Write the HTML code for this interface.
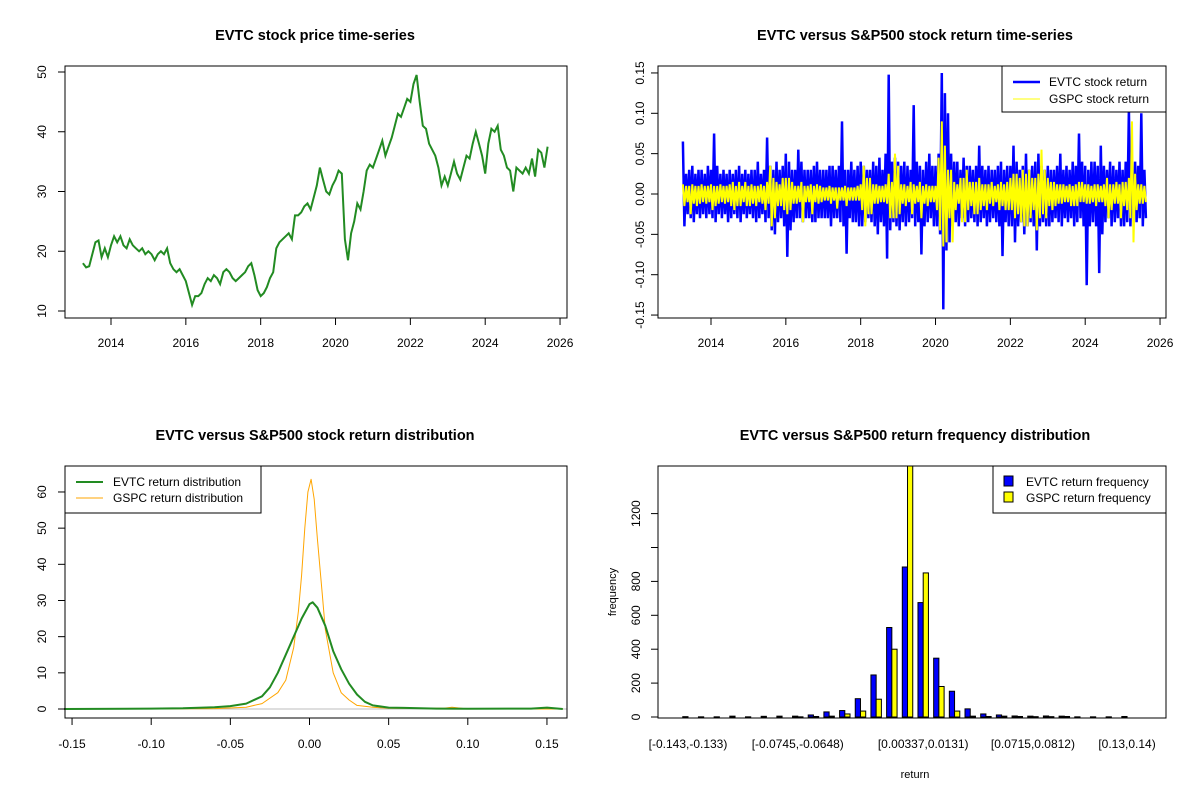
<!DOCTYPE html>
<html><head><meta charset="utf-8"><style>
body{margin:0;background:#fff;width:1200px;height:800px;overflow:hidden}
svg text{font-family:"Liberation Sans",Arial,sans-serif;fill:#000}
</style></head><body>
<svg id="chart" width="1200" height="800" viewBox="0 0 1200 800"></svg>
<script>
// ---- Panel 1: price (monthly from 2013.25)
const priceStart = 2013.25;
const priceValues = [18,17.3,17.5,19.5,21.5,21.8,19,20.5,19,
21,22.5,21.5,22.5,21,20.5,22,21,20.5,20,20.5,19.5,
20,19.5,18.5,19.5,20,19.5,20.5,18,17,16.5,17,16,
15,13,11,12.5,12.5,13,14.5,15.5,15,16,15.5,14.5,
16.5,17,16.5,15.5,15,15.5,16,16.5,17.5,18,16,13.5,
12.5,13,14,15.5,16.5,20.5,21.5,22,22.5,23,22,26,
26,26.5,27.5,28,27,29,31,34,32,30,29.5,31,
32,33.5,33,22,18.5,23,25,28,27,30,33.5,34.5,
34,35.5,37,38.5,36,37.5,39,41,43,42.5,44,45.5,
45,48,49.5,45,41,40.5,38,37,36,34,31,32.5,
31,33,35,33,32,34,36,35.5,38,40,38,36,
33,38,40.5,40,41,37,36,34,33.5,30,34,33.5,
33,34,33,35.5,32.5,37,36.5,34,37.5];
const yearTicks = [2014,2016,2018,2020,2022,2024,2026];
const priceTicks = [10,20,30,40,50];
// ---- Panel 2: returns, monthly max/min
const evtcHigh = [.065,.025,.03,.035,.025,.03,.03,.025,.035,
.03,.075,.035,.025,.03,.025,.03,.025,.03,.035,.025,.03,
.025,.03,.03,.04,.025,.03,.07,.035,.03,.04,.03,.035,
.05,.04,.03,.03,.055,.04,.03,.03,.03,.035,.04,.03,
.03,.03,.035,.035,.03,.035,.09,.03,.03,.04,.03,.035,
.04,.035,.03,.03,.04,.035,.045,.03,.05,.148,.04,.045,
.04,.035,.04,.035,.03,.11,.04,.035,.03,.04,.05,.035,
.035,.05,.15,.125,.1,.05,.04,.04,.03,.045,.035,.035,
.03,.035,.06,.035,.03,.035,.03,.03,.035,.04,.03,.035,
.035,.06,.04,.03,.035,.05,.03,.035,.04,.05,.035,.03,
.035,.03,.03,.035,.05,.03,.035,.03,.04,.035,.075,.04,
.035,.03,.04,.04,.035,.06,.035,.03,.04,.035,.03,.04,
.03,.04,.105,.03,.04,.035,.1,.03];
const evtcLow = [-.04,-.025,-.03,-.035,-.025,-.03,-.025,-.03,-.025,
-.03,-.035,-.025,-.03,-.025,-.035,-.03,-.025,-.03,-.035,-.025,-.03,
-.025,-.03,-.035,-.03,-.025,-.035,-.03,-.045,-.05,-.035,-.03,-.04,
-.078,-.045,-.035,-.03,-.03,-.035,-.03,-.03,-.035,-.035,-.03,-.03,
-.03,-.03,-.04,-.03,-.03,-.035,-.04,-.074,-.03,-.035,-.035,-.04,
-.04,-.035,-.03,-.035,-.04,-.05,-.035,-.04,-.08,-.045,-.035,-.04,
-.045,-.035,-.04,-.035,-.03,-.04,-.035,-.075,-.04,-.035,-.03,-.04,
-.04,-.05,-.143,-.07,-.06,-.04,-.035,-.04,-.03,-.04,-.035,-.03,
-.035,-.04,-.035,-.03,-.04,-.035,-.03,-.035,-.04,-.077,-.035,-.04,
-.04,-.06,-.04,-.035,-.05,-.04,-.035,-.04,-.07,-.04,-.035,-.04,
-.04,-.035,-.03,-.035,-.04,-.03,-.035,-.03,-.04,-.035,-.03,-.04,
-.113,-.04,-.035,-.04,-.098,-.05,-.035,-.03,-.04,-.035,-.03,-.04,
-.04,-.035,-.04,-.03,-.035,-.03,-.04,-.03];
const gspcHigh = [.012,.01,.01,.012,.01,.01,.012,.01,.01,
.012,.01,.01,.012,.01,.01,.012,.015,.01,.015,.01,.015,
.01,.012,.01,.01,.012,.01,.015,.035,.02,.015,.012,.02,
.02,.02,.015,.01,.01,.015,.01,.01,.012,.01,.012,.01,
.008,.008,.01,.008,.008,.008,.008,.01,.008,.008,.008,.01,
.012,.035,.02,.02,.012,.012,.01,.01,.012,.025,.015,.05,
.035,.012,.012,.01,.015,.012,.01,.015,.01,.012,.01,.01,
.01,.045,.09,.06,.03,.03,.015,.012,.02,.02,.03,.015,
.015,.015,.02,.012,.012,.012,.015,.01,.012,.015,.012,.015,
.02,.025,.025,.02,.03,.025,.03,.02,.02,.025,.055,.03,
.02,.015,.015,.012,.012,.012,.01,.012,.01,.012,.015,.015,
.012,.012,.01,.012,.012,.01,.012,.02,.012,.012,.015,.012,
.015,.015,.02,.09,.025,.012,.012,.01];
const gspcLow = [-.015,-.01,-.025,-.012,-.015,-.012,-.01,-.012,-.01,
-.02,-.015,-.012,-.01,-.012,-.01,-.015,-.02,-.015,-.015,-.01,-.015,
-.015,-.012,-.015,-.01,-.012,-.02,-.012,-.04,-.03,-.015,-.015,-.02,
-.025,-.02,-.012,-.012,-.01,-.035,-.01,-.01,-.025,-.01,-.012,-.01,
-.008,-.008,-.012,-.008,-.018,-.008,-.008,-.015,-.008,-.008,-.008,-.008,
-.02,-.04,-.025,-.025,-.012,-.012,-.01,-.01,-.012,-.03,-.03,-.03,
-.025,-.012,-.015,-.01,-.025,-.012,-.01,-.03,-.012,-.015,-.01,-.01,
-.02,-.045,-.065,-.06,-.03,-.06,-.02,-.012,-.035,-.035,-.02,-.015,
-.025,-.025,-.02,-.015,-.02,-.012,-.015,-.01,-.02,-.015,-.02,-.02,
-.02,-.03,-.025,-.035,-.04,-.04,-.03,-.02,-.045,-.03,-.025,-.03,
-.015,-.02,-.015,-.012,-.012,-.01,-.01,-.015,-.015,-.015,-.01,-.01,
-.012,-.012,-.01,-.015,-.01,-.01,-.015,-.03,-.02,-.012,-.012,-.03,
-.015,-.02,-.03,-.06,-.02,-.012,-.012,-.01];
const returnTicks = [-0.15,-0.10,-0.05,0.00,0.05,0.10,0.15];
// ---- Panel 3: densities
const evtcDx = [-0.155,-0.1,-0.08,-0.06,-0.05,-0.04,-0.03,-0.025,-0.02,-0.015,-0.01,-0.005,0,0.002,0.005,0.01,0.015,0.02,0.025,0.03,0.035,0.04,0.05,0.06,0.08,0.1,0.14,0.15,0.16];
const evtcDy = [0,0.1,0.2,0.5,0.8,1.5,3.5,6,10,15,20,25,29,29.5,28,23,16,11,7,4,2,1,0.4,0.3,0.1,0.05,0.1,0.4,0];
const gspcDx = [-0.155,-0.06,-0.04,-0.03,-0.02,-0.015,-0.01,-0.007,-0.005,-0.003,-0.001,0.001,0.003,0.005,0.008,0.01,0.015,0.02,0.025,0.03,0.04,0.05,0.085,0.09,0.1,0.16];
const gspcDy = [0,0.1,0.5,1.5,4.5,8,17,27,37,50,60,63.5,58,47,32,22,10,4.5,2.5,1,0.5,0.2,0.2,0.5,0,0];
const densXTicks = [-0.15,-0.10,-0.05,0.00,0.05,0.10,0.15];
const densYTicks = [0,10,20,30,40,50,60];
// ---- Panel 4: histogram
const binLabels = ["[-0.143,-0.133)","[-0.0745,-0.0648)","[0.00337,0.0131)","[0.0715,0.0812)","[0.13,0.14)"];
const binLabelIdx = [0,7,15,22,28];
const evtcFreq = [2,1,1,5,1,4,5,5,12,30,38,108,248,528,885,675,347,152,48,18,12,6,5,6,5,1,1,1,3,0];
const gspcFreq = [0,0,0,0,0,0,0,1,3,5,18,35,105,400,1600,850,180,35,5,3,5,3,2,2,3,0,0,0,0,0];
const freqTicks = [0,200,400,600,800,1000,1200];
const freqLabels = ["0","200","400","600","800","","1200"];

const NS="http://www.w3.org/2000/svg", svg=document.getElementById('chart');
function mk(tag,attrs,parent){const e=document.createElementNS(NS,tag);for(const k in attrs)e.setAttribute(k,attrs[k]);(parent||svg).appendChild(e);return e;}
function txt(s,x,y,o,parent){o=o||{};const t=mk('text',{x:x,y:y,'font-size':o.fs||12,'text-anchor':o.anchor||'middle'},parent);if(o.bold)t.setAttribute('font-weight','bold');if(o.rot)t.setAttribute('transform','rotate(-90 '+x+' '+y+')');t.textContent=s;return t;}
function box(x0,y0,x1,y1,name){const r=mk('rect',{x:x0,y:y0,width:x1-x0,height:y1-y0,fill:'none',stroke:'#000','stroke-width':1});}

// Panel 1
const g1=mk('g',{});
const px1=v=>111+(v-2014)*37.42, py1=v=>311-(v-10)*5.975;
txt('EVTC stock price time-series',315,40,{bold:true,fs:14.5},g1);
let d='';priceValues.forEach((v,i)=>{d+=(i?'L':'M')+px1(priceStart+i/12).toFixed(1)+' '+py1(v).toFixed(1);});
const pl=mk('path',{d:d,fill:'none',stroke:'#228B22','stroke-width':2},g1);
yearTicks.forEach(t=>{mk('line',{x1:px1(t),x2:px1(t),y1:318,y2:325,stroke:'#000'},g1);txt(String(t),px1(t),347,{},g1);});
priceTicks.forEach(t=>{mk('line',{x1:58,x2:65,y1:py1(t),y2:py1(t),stroke:'#000'},g1);txt(String(t),46,py1(t),{rot:true},g1);});
box(65,66,567,318,'price-plot-box');

// Panel 2
const g2=mk('g',{});
const px2=v=>711+(v-2014)*37.42, py2=v=>194-v*807;
txt('EVTC versus S&P500 stock return time-series',915,40,{bold:true,fs:14.5},g2);
function zig(hi,lo,color,w,name){let s='';hi.forEach((v,i)=>{const x=px2(priceStart+i/12);s+=(i?'L':'M')+x.toFixed(1)+' '+py2(v).toFixed(1)+'L'+(x+1.5).toFixed(1)+' '+py2(lo[i]).toFixed(1);});const p=mk('path',{d:s,fill:'none',stroke:color,'stroke-width':w},g2);}
zig(evtcHigh,evtcLow,'#0000FF',2.5,'evtc-return-line');
zig(gspcHigh,gspcLow,'#FFFF00',2,'gspc-return-line');
yearTicks.forEach(t=>{mk('line',{x1:px2(t),x2:px2(t),y1:318,y2:325,stroke:'#000'},g2);txt(String(t),px2(t),347,{},g2);});
returnTicks.forEach(t=>{mk('line',{x1:651,x2:658,y1:py2(t),y2:py2(t),stroke:'#000'},g2);txt(t.toFixed(2),644,py2(t),{rot:true},g2);});
box(658,66,1166,318,'return-plot-box');
const lg2=mk('g',{},g2);
mk('rect',{x:1002,y:66,width:164,height:46,fill:'#fff',stroke:'#000'},lg2);
mk('line',{x1:1013,x2:1040,y1:82,y2:82,stroke:'#0000FF','stroke-width':2.5},lg2);
mk('line',{x1:1013,x2:1040,y1:99,y2:99,stroke:'#FFFF00','stroke-width':1},lg2);
txt('EVTC stock return',1049,86,{anchor:'start'},lg2);txt('GSPC stock return',1049,103,{anchor:'start'},lg2);

// Panel 3
const g3=mk('g',{});
const px3=v=>309.5+v*1583, py3=v=>709-v*3.617;
txt('EVTC versus S&P500 stock return distribution',315,440,{bold:true,fs:14.5},g3);
const zl=mk('line',{x1:65,x2:567,y1:py3(0),y2:py3(0),stroke:'#bebebe'},g3);
function curve(xs,ys,color,w,name){let s='';xs.forEach((x,i)=>{s+=(i?'L':'M')+px3(x).toFixed(1)+' '+py3(ys[i]).toFixed(1);});const p=mk('path',{d:s,fill:'none',stroke:color,'stroke-width':w,'stroke-linejoin':'round'},g3);}
curve(gspcDx,gspcDy,'#FFA500',1,'gspc-density-line');
curve(evtcDx,evtcDy,'#228B22',2,'evtc-density-line');
densXTicks.forEach(t=>{mk('line',{x1:px3(t),x2:px3(t),y1:718,y2:725,stroke:'#000'},g3);txt(t.toFixed(2),px3(t),748,{},g3);});
densYTicks.forEach(t=>{mk('line',{x1:58,x2:65,y1:py3(t),y2:py3(t),stroke:'#000'},g3);txt(String(t),46,py3(t),{rot:true},g3);});
box(65,466,567,718,'density-plot-box');
const lg3=mk('g',{},g3);
mk('rect',{x:65,y:466,width:196,height:47,fill:'#fff',stroke:'#000'},lg3);
mk('line',{x1:76,x2:103,y1:482,y2:482,stroke:'#228B22','stroke-width':2},lg3);
mk('line',{x1:76,x2:103,y1:498,y2:498,stroke:'#FFA500','stroke-width':1},lg3);
txt('EVTC return distribution',113,486,{anchor:'start'},lg3);txt('GSPC return distribution',113,502,{anchor:'start'},lg3);

// Panel 4
const g4=mk('g',{});
const pitch=15.68, bw=pitch/3, gx=i=>688+pitch*i, py4=v=>717-v*0.1695;
txt('EVTC versus S&P500 return frequency distribution',915,440,{bold:true,fs:14.5},g4);
const clip=mk('clipPath',{id:'hc'},g4);mk('rect',{x:658,y:466,width:508,height:252},clip);
const bars=mk('g',{'clip-path':'url(#hc)'},g4);
evtcFreq.forEach((v,i)=>{const r=mk('rect',{x:gx(i)-bw,y:py4(v),width:bw,height:Math.max(0,py4(0)-py4(v)),fill:'#0000FF',stroke:'#000','stroke-width':1},bars);});
gspcFreq.forEach((v,i)=>{const r=mk('rect',{x:gx(i),y:py4(v),width:bw,height:Math.max(0,py4(0)-py4(v)),fill:'#FFFF00',stroke:'#000','stroke-width':1},bars);});
binLabelIdx.forEach((idx,k)=>{txt(binLabels[k],gx(idx),748,{},g4);});
freqTicks.forEach((t,k)=>{mk('line',{x1:651,x2:658,y1:py4(t),y2:py4(t),stroke:'#000'},g4);if(freqLabels[k])txt(freqLabels[k],640,py4(t),{rot:true},g4);});
txt('frequency',616,592,{rot:true,fs:11},g4);
txt('return',915,778,{fs:11},g4);
box(658,466,1166,718,'histogram-plot-box');
const lg4=mk('g',{},g4);
mk('rect',{x:993,y:466,width:173,height:47,fill:'#fff',stroke:'#000'},lg4);
mk('rect',{x:1004,y:476,width:9,height:10,fill:'#0000FF',stroke:'#000'},lg4);
mk('rect',{x:1004,y:492,width:9,height:10,fill:'#FFFF00',stroke:'#000'},lg4);
txt('EVTC return frequency',1026,486,{anchor:'start'},lg4);txt('GSPC return frequency',1026,502,{anchor:'start'},lg4);
</script>
</body></html>
